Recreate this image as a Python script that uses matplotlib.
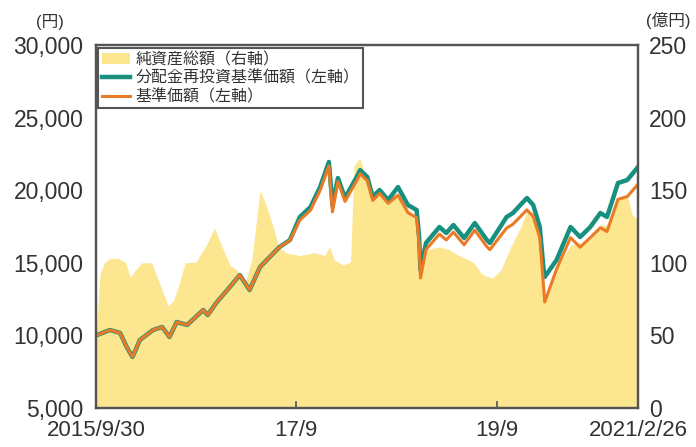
import matplotlib
matplotlib.use("Agg")
import matplotlib.pyplot as plt
from matplotlib.patches import Patch
from matplotlib.lines import Line2D
import pandas as pd

plt.rcParams['font.family'] = ['Liberation Sans', 'Noto Sans CJK JP', 'DejaVu Sans']

# ---- data ----
nav_dates = ["2015-09-30", "2015-11-20", "2015-12-27", "2016-01-20", "2016-02-10", "2016-03-08",
             "2016-04-25", "2016-05-28", "2016-06-24", "2016-07-20", "2016-08-27", "2016-10-25",
             "2016-11-10", "2016-12-14", "2017-01-30", "2017-03-07", "2017-04-12", "2017-05-20",
             "2017-07-30", "2017-09-06", "2017-10-12", "2017-11-20", "2017-12-25", "2018-01-26",
             "2018-02-08", "2018-02-28", "2018-03-26", "2018-05-10", "2018-05-20", "2018-06-15",
             "2018-07-05", "2018-07-30", "2018-08-30", "2018-10-05", "2018-11-10", "2018-12-12",
             "2018-12-21", "2018-12-26", "2019-01-15", "2019-03-05", "2019-03-30", "2019-04-25",
             "2019-06-03", "2019-07-12", "2019-08-25", "2019-09-05", "2019-11-05", "2019-11-28",
             "2020-01-18", "2020-02-10", "2020-03-05", "2020-03-19", "2020-03-23", "2020-05-05",
             "2020-06-25", "2020-07-30", "2020-09-05", "2020-10-12", "2020-11-05", "2020-12-15",
             "2021-01-18", "2021-02-26"]
nav_reinvested = [10000, 10372, 10166, 9201, 8513, 9684,
                  10372, 10579, 9890, 10923, 10716, 11750,
                  11405, 12300, 13333, 14160, 13127, 14711,
                  16089, 16570, 18154, 18843, 20220, 21942,
                  18980, 20840, 19463, 21000, 21391, 20909,
                  19532, 20014, 19325, 20220, 18980, 18636,
                  16777, 14504, 16364, 17466, 17053, 17603,
                  16708, 17741, 16570, 16364, 18154, 18430,
                  19463, 18980, 17466, 14504, 14022, 15193,
                  17466, 16777, 17466, 18430, 18154, 20496,
                  20703, 21598]
nav_base = [10000, 10372, 10166, 9201, 8513, 9684,
            10372, 10579, 9890, 10923, 10716, 11750,
            11405, 12300, 13333, 14160, 13127, 14711,
            16089, 16540, 17936, 18617, 19977, 21679,
            18500, 20590, 19229, 20750, 21134, 20658,
            19298, 19774, 19093, 19654, 18449, 18114,
            16307, 13950, 15906, 16977, 16576, 17110,
            16240, 17244, 16106, 15906, 17392, 17656,
            18646, 18183, 16732, 13300, 12300, 14555,
            16732, 16072, 16732, 17416, 17156, 19369,
            19564, 20410]

asset_dates = ["2015-09-30", "2015-10-15", "2015-11-02", "2015-11-20", "2015-12-20", "2016-01-15",
               "2016-02-03", "2016-02-20", "2016-03-15", "2016-04-20", "2016-05-20", "2016-06-20",
               "2016-07-08", "2016-07-25", "2016-08-20", "2016-09-28", "2016-11-05", "2016-12-05",
               "2016-12-30", "2017-01-30", "2017-02-25", "2017-03-25", "2017-04-20", "2017-05-20",
               "2017-06-10", "2017-07-05", "2017-07-25", "2017-08-20", "2017-10-12", "2017-12-05",
               "2018-01-10", "2018-01-28", "2018-02-15", "2018-03-20", "2018-04-15", "2018-04-28",
               "2018-05-20", "2018-06-15", "2018-08-05", "2018-10-10", "2018-11-15", "2018-12-12",
               "2018-12-25", "2019-01-15", "2019-03-05", "2019-04-10", "2019-05-15", "2019-07-05",
               "2019-08-10", "2019-09-15", "2019-10-15", "2019-11-20", "2019-12-25", "2020-01-18",
               "2020-02-10", "2020-03-05", "2020-03-23", "2020-05-05", "2020-06-25", "2020-09-05",
               "2020-10-12", "2020-11-05", "2020-12-15", "2021-01-18", "2021-02-05", "2021-02-26"]
net_assets = [50, 93, 100.5, 103, 103, 100.5,
              90, 95, 100, 100, 85, 70,
              74, 83, 100, 100.5, 112, 124,
              112, 98.5, 95, 85, 102, 150,
              140, 126, 112, 107, 105, 107,
              105, 111, 102, 98.5, 100.5, 167,
              172, 153.6, 145, 148, 136, 129.5,
              100.5, 109, 111, 109, 105, 100.5,
              91.6, 89.5, 95, 111, 124, 135,
              135, 119, 72, 96, 112, 115.7,
              126, 126, 143, 146.7, 133, 129.5]

legend_labels = ["純資産総額（右軸）", "分配金再投資基準価額（左軸）", "基準価額（左軸）"]
left_ticks = [5000, 10000, 15000, 20000, 25000, 30000]
right_ticks = [0, 50, 100, 150, 200, 250]
x_ticks = ["2015-09-30", "2017-09-29", "2019-09-30", "2021-02-26"]
x_tick_labels = ["2015/9/30", "17/9", "19/9", "2021/2/26"]

# ---- styles ----
C_FILL = "#FCE68F"
C_GREEN = "#17907F"
C_ORANGE = "#EB7A26"
C_TEXT = "#333333"
C_SPINE = "#555555"

nd = pd.to_datetime(nav_dates)
ad = pd.to_datetime(asset_dates)

fig = plt.figure(figsize=(6.96, 4.47), dpi=100)
ax = fig.add_axes([96/696, 1-408/447, (638-96)/696, (408-45)/447])
ax2 = ax.twinx()

ax2.fill_between(ad, 0, net_assets, color=C_FILL, lw=0)
ax2.set_ylim(0, 250)
ax2.set_yticks(right_ticks)
ax2.set_yticklabels([str(v) for v in right_ticks])

ax.plot(nd, nav_reinvested, color=C_GREEN, lw=3.2, solid_joinstyle='round')
ax.plot(nd, nav_base, color=C_ORANGE, lw=2.2, solid_joinstyle='round')
ax.set_ylim(5000, 30000)
ax.set_yticks(left_ticks)
ax.set_yticklabels([f"{v:,}" for v in left_ticks])
ax.set_xlim(pd.Timestamp("2015-09-30"), pd.Timestamp("2021-02-26"))
ax.set_xticks(pd.to_datetime(x_ticks))
ax.set_xticklabels(x_tick_labels)

ax.set_zorder(ax2.get_zorder() + 1)
ax.patch.set_visible(False)

for a in (ax, ax2):
    for s in a.spines.values():
        s.set_color(C_SPINE)
        s.set_linewidth(1.6)
ax.tick_params(axis='y', length=0, pad=9, labelsize=16.5, labelcolor=C_TEXT)
ax2.tick_params(axis='y', length=0, pad=8, labelsize=16.5, labelcolor=C_TEXT)
ax.tick_params(axis='x', direction='in', length=5, width=1.2, color=C_SPINE, pad=8.5,
               labelsize=16, labelcolor=C_TEXT)

fig.text(50/696, 1-22/447, "(円)", ha='center', va='center', fontsize=12, color=C_TEXT)
fig.text(668/696, 1-20/447, "(億円)", ha='center', va='center', fontsize=12, color=C_TEXT)

handles = [Patch(facecolor=C_FILL, edgecolor='none'),
           Line2D([], [], color=C_GREEN, lw=3.2),
           Line2D([], [], color=C_ORANGE, lw=2.2)]
leg = ax.legend(handles, legend_labels, loc='upper left', bbox_to_anchor=(0.003, 0.992),
                fontsize=11.5, frameon=True, fancybox=False, framealpha=1,
                edgecolor=C_SPINE, handlelength=1.8, handletextpad=0.3,
                labelspacing=0.2, borderpad=0.25, borderaxespad=0)
leg.get_frame().set_linewidth(1.5)
for t in leg.get_texts():
    t.set_color(C_TEXT)

fig.savefig("out.png", dpi=100)
